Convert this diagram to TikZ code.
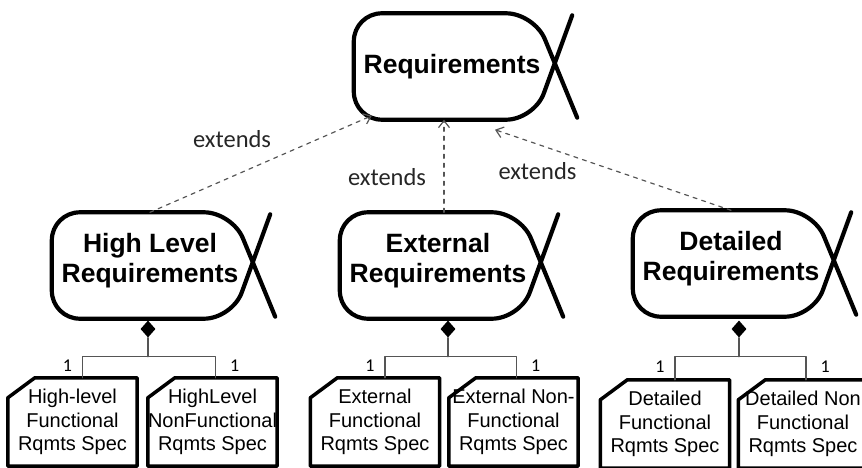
\documentclass[tikz,border=0pt]{standalone}
\usepackage{fontspec}
\setmainfont{Liberation Sans}
\newfontfamily\calfont{Carlito}
\usetikzlibrary{calc,shapes.geometric,arrows.meta}

\definecolor{linegray}{RGB}{85,85,85}

\tikzset{
  reqnode/.style={rectangle, minimum width=196pt, minimum height=106pt, inner sep=0pt,
    align=center, font=\fontsize{26.5}{30}\selectfont\bfseries},
  fishline/.style={line width=4.2pt, rounded corners=28pt},
  spec/.style={rectangle, minimum width=129pt, minimum height=88pt, inner sep=0pt,
    align=center, font=\fontsize{20}{23.5}\selectfont},
  specline/.style={line width=3.5pt},
  comp/.style={diamond, fill=black, inner sep=0pt, minimum width=15pt, minimum height=17pt},
  tree/.style={line width=1.2pt, draw=linegray},
  extline/.style={line width=1.2pt, draw=linegray, dash pattern=on 4pt off 5pt,
    -{Straight Barb[length=7pt,width=11pt]}},
  lbl/.style={font=\calfont\fontsize{24.5}{28}\selectfont, text=black!85},
  mult/.style={font=\calfont\fontsize{18}{20}\selectfont, inner sep=0pt, yshift=2pt}
}

% stereotype outline round a named node
\newcommand\reqfish[1]{%
  \draw[fishline] ($(#1.north east)+(22,2)$) -- ($(#1.south east)+(-16,0)$)
    -- (#1.south west) -- (#1.north west) -- ($(#1.north east)+(-16,0)$)
    -- ($(#1.south east)+(27,-2)$);}

% spec box with cut corner
\newcommand\specbox[1]{%
  \draw[specline] ($(#1.north west)+(0,20)$) -- ($(#1.north west)+(27,0)$)
    -- (#1.north east) -- (#1.south east) -- (#1.south west) -- cycle;}

\begin{document}
\begin{tikzpicture}[x=1pt, y=-1pt, line cap=round, line join=round]
  \useasboundingbox (0,0) rectangle (862,468);

  \node[reqnode] (req) at (452,66.5) {Requirements};
  \node[reqnode] (hlr) at (150,265.5) {High Level\\Requirements\rule[-15pt]{0pt}{0pt}};
  \node[reqnode] (exr) at (438,265.5) {External\\Requirements\rule[-15pt]{0pt}{0pt}};
  \node[reqnode] (der) at (731,263.5) {Detailed\\Requirements\rule[-15pt]{0pt}{0pt}};
  \reqfish{req}
  \reqfish{hlr}
  \reqfish{exr}
  \reqfish{der}

  \draw[extline] (hlr.north) -- node[lbl, pos=0.37, yshift=37pt] {extends}
    ([xshift=18pt,yshift=4pt]req.south west);
  \draw[extline] ([xshift=6pt]exr.north) -- node[lbl, pos=0.38, xshift=-57pt] {extends}
    ([xshift=6pt]exr.north |- req.south);
  \draw[extline] (der.north) -- node[lbl, pos=0.82, yshift=-27pt] {extends}
    ([xshift=43pt,yshift=-10pt]req.south);

  \node[spec] (hlf) at (72.5,422) {High-level\\Functional\\Rqmts Spec};
  \node[spec] (hln) at (212.5,422) {HighLevel\\NonFunctional\\Rqmts Spec};
  \node[spec] (exf) at (375,422) {External\\Functional\\Rqmts Spec};
  \node[spec] (exn) at (513.5,422) {External Non-\\Functional\\Rqmts Spec};
  \node[spec] (def) at (665,424) {Detailed\\Functional\\Rqmts Spec};
  \node[spec] (den) at (803,424) {Detailed Non\\Functional\\Rqmts Spec};
  \specbox{hlf}
  \specbox{hln}
  \specbox{exf}
  \specbox{exn}
  \specbox{def}
  \specbox{den}

  \node[comp] (hlc) at (148,329) {};
  \node[comp] (exc) at (448,329) {};
  \node[comp] (dec) at (739,329) {};

  \draw[tree] (hlc.south) -- ++(0,19) coordinate (hlj);
  \draw[tree] ([xshift=10pt]hlf.north) |- node[mult, pos=0.25, left=10pt] {1} (hlj)
    -| node[mult, pos=0.75, right=14pt] {1} ([xshift=3pt]hln.north);
  \draw[tree] (exc.south) -- ++(0,19) coordinate (exj);
  \draw[tree] ([xshift=10pt]exf.north) |- node[mult, pos=0.25, left=10pt] {1} (exj)
    -| node[mult, pos=0.75, right=14pt] {1} ([xshift=3pt]exn.north);
  \draw[tree] (dec.south) -- ++(0,19) coordinate (dej);
  \draw[tree] ([xshift=10pt]def.north) |- node[mult, pos=0.25, left=10pt] {1} (dej)
    -| node[mult, pos=0.75, right=14pt] {1} ([xshift=3pt]den.north);
\end{tikzpicture}
\end{document}
